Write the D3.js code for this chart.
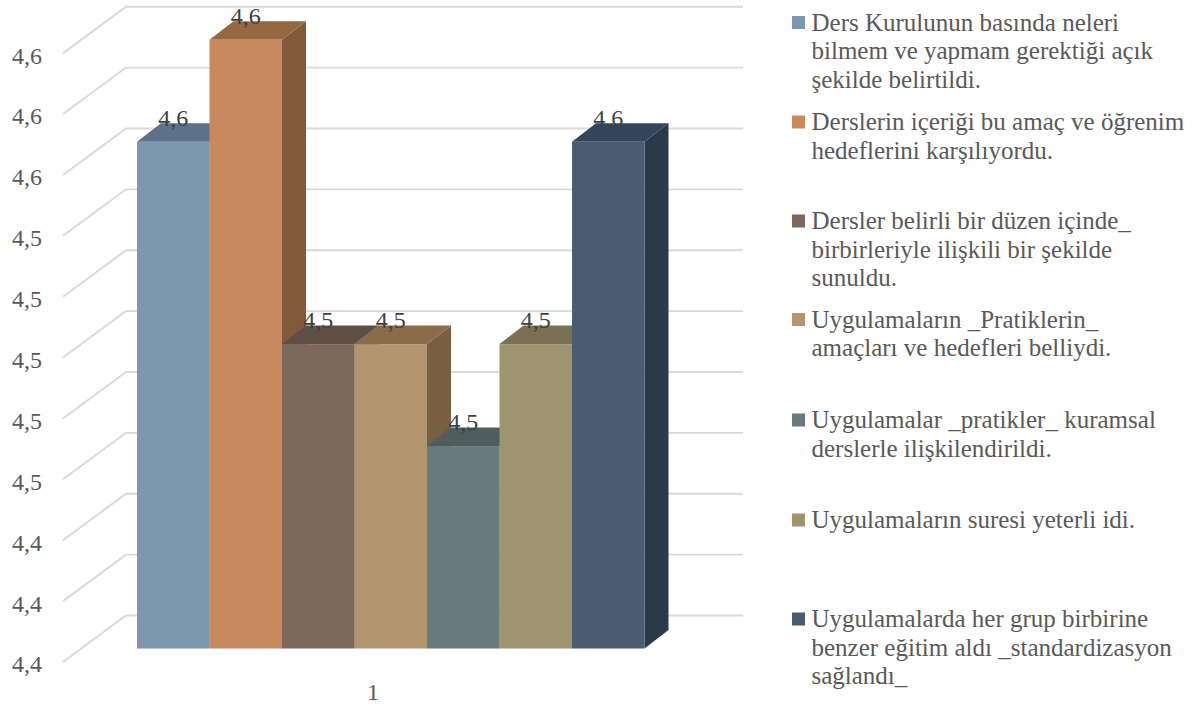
<!DOCTYPE html>
<html><head><meta charset="utf-8">
<script src="https://cdn.jsdelivr.net/npm/d3@7"></script>
<style>html,body{margin:0;background:#fff}svg{display:block}text{font-family:"Liberation Serif",serif}</style>
</head><body><div id="c"></div>
<script>
const series = ["s1","s2","s3","s4","s5","s6","s7"];
const values = [4.5665,4.60,4.50,4.50,4.4665,4.50,4.5665];
const valueLabels = ["4,6","4,6","4,5","4,5","4,5","4,5","4,6"];
const ticks = [4.40,4.42,4.44,4.46,4.48,4.50,4.52,4.54,4.56,4.58,4.60];
const tickLabels = ["4,4","4,4","4,4","4,5","4,5","4,5","4,5","4,5","4,6","4,6","4,6"];
const category = "1";
const legendLines = [
 ["Ders Kurulunun basında neleri","bilmem ve yapmam gerektiği açık","şekilde belirtildi."],
 ["Derslerin içeriği bu amaç ve öğrenim","hedeflerini karşılıyordu."],
 ["Dersler belirli bir düzen içinde_","birbirleriyle ilişkili bir şekilde","sunuldu."],
 ["Uygulamaların _Pratiklerin_","amaçları ve hedefleri belliydi."],
 ["Uygulamalar _pratikler_ kuramsal","derslerle ilişkilendirildi."],
 ["Uygulamaların suresi yeterli idi."],
 ["Uygulamalarda her grup birbirine","benzer eğitim aldı _standardizasyon","sağlandı_"]
];
const colFront = ["#7c97ae","#c9895f","#7c695c","#b39570","#687a7d","#9e9470","#4a5c72"];
const colTop   = ["#5d7288","#96683f","#5e4f45","#8a6c4a","#4f5d5d","#7a7154","#34465c"];
const colSide  = ["#5d7288","#82593a","#5e4f45","#785f42","#4f5d5d","#7a7154","#2b3a48"];
const legendTop = [23,122.5,221.5,320,420.5,520.5,619.5];

const W=1199,H=707,lineH=28.4;
const dx=24,dy=18.5,baseShift=33,frontShift=46.5;
const y=d3.scaleLinear().domain([4.4,4.6]).range([615.5,6.7]);
const x=d3.scaleBand().domain(series).range([137,644.5]);
const svg=d3.select("#c").append("svg").attr("width",W).attr("height",H);

const gridPath=d3.line();
svg.append("g").selectAll("path").data(ticks).join("path")
 .attr("d",t=>gridPath([[63,y(t)+frontShift],[126,y(t)],[743,y(t)]]))
 .attr("fill","none").attr("stroke","#d9d9d9").attr("stroke-width",1.9);

svg.append("g").selectAll("text").data(ticks).join("text")
 .attr("x",27).attr("y",t=>y(t)+frontShift+2).attr("dy","0.35em")
 .attr("text-anchor","middle").attr("font-size",24).attr("fill","#595959")
 .text((t,i)=>tickLabels[i]);

const poly=p=>p.map(q=>q.join(",")).join(" ");
const base=y(4.4)+baseShift;
const bars=svg.append("g").selectAll("g").data(series).join("g");
bars.each(function(s,i){
 const g=d3.select(this),l=x(s),r=l+x.bandwidth(),t=y(values[i])+baseShift;
 g.append("polygon").attr("points",poly([[r,t],[r+dx,t-dy],[r+dx,base-dy],[r,base]])).attr("fill",colSide[i]);
 g.append("polygon").attr("points",poly([[l,t],[l+dx,t-dy],[r+dx,t-dy],[r,t]])).attr("fill",colTop[i]);
 g.append("rect").attr("x",l).attr("y",t).attr("width",x.bandwidth()).attr("height",base-t).attr("fill",colFront[i]);
});
svg.append("g").selectAll("text").data(series).join("text")
 .attr("x",s=>x(s)+x.bandwidth()/2).attr("y",(s,i)=>y(values[i])+baseShift-16)
 .attr("text-anchor","middle").attr("font-size",24).attr("fill","#404040")
 .text((s,i)=>valueLabels[i]);
svg.append("text").attr("x",373).attr("y",700).attr("text-anchor","middle")
 .attr("font-size",24).attr("fill","#595959").text(category);

const lg=svg.append("g").selectAll("g").data(series).join("g")
 .attr("transform",(s,i)=>`translate(792,${legendTop[i]})`);
lg.append("rect").attr("y",-7).attr("width",13).attr("height",13).attr("fill",(s,i)=>colFront[i]);
lg.each(function(s,i){
 d3.select(this).selectAll("text").data(legendLines[i]).join("text")
  .attr("x",19.5).attr("y",(d,j)=>j*lineH).attr("dy","0.31em")
  .attr("font-size",25).attr("fill","#595959").text(d=>d);
});
</script></body></html>
